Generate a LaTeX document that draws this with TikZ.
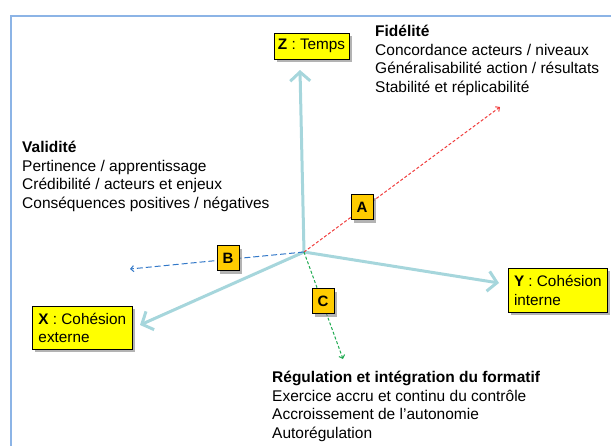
\documentclass[tikz,border=0pt]{standalone}
\usepackage{fontspec}
\setmainfont{Liberation Sans}
\usetikzlibrary{arrows.meta,shadows}
\definecolor{axiscol}{RGB}{166,214,220}
\definecolor{framecol}{RGB}{140,180,230}
\definecolor{boxyellow}{RGB}{255,255,0}
\definecolor{boxgold}{RGB}{255,204,0}
\definecolor{redline}{RGB}{240,60,60}
\definecolor{blueline}{RGB}{50,120,200}
\definecolor{greenline}{RGB}{30,170,80}
\tikzset{
  axisline/.style={axiscol, line width=3pt, -{Straight Barb[length=9pt,width=20pt]}},
  dashline/.style={line width=1pt, dash pattern=on 3pt off 2pt, -{Straight Barb[length=3pt,width=6pt]}},
  labelbox/.style={draw=black, line width=0.6pt, fill=boxyellow, align=left, inner sep=3pt,
    drop shadow={shadow xshift=3pt, shadow yshift=-3pt, fill=black!50, opacity=0.6},
    font=\fontsize{15.3}{18.6}\selectfont},
  letterbox/.style={draw=black, line width=0.6pt, fill=boxgold, minimum width=22pt, minimum height=25pt, inner sep=0pt,
    drop shadow={shadow xshift=3pt, shadow yshift=-3pt, fill=black!50, opacity=0.6},
    font=\fontsize{15}{18}\selectfont\bfseries},
  textblock/.style={align=left, inner sep=0pt, anchor=north west, font=\fontsize{15.5}{18.6}\selectfont}
}
\begin{document}
\begin{tikzpicture}[x=1pt,y=1pt]
\useasboundingbox (0,0) rectangle (611,-445);
\begin{scope}
\clip (0,0) rectangle (611,-445);
\draw[framecol, line width=1.2pt] (11,-16) rectangle (640,-480);
\end{scope}

\coordinate (O) at (304,-252);
\coordinate (Ztip) at (300,-70);
\coordinate (Ytip) at (499,-283);
\coordinate (Xtip) at (140,-325);
\coordinate (Aend) at (500,-107);
\coordinate (Bend) at (130,-269);
\coordinate (Cend) at (343,-359);

\draw[axisline] (O) -- (Ztip);
\draw[axisline] (O) -- (Ytip);
\draw[axisline] (O) -- (Xtip);

\draw[dashline, redline] (O) -- (Aend);
\draw[dashline, blueline, dash pattern=on 6pt off 3pt] (O) -- (Bend);
\draw[dashline, greenline] (O) -- (Cend);

\node[letterbox] (A) at (362,-207) {A};
\node[letterbox] (B) at (228,-258) {B};
\node[letterbox] (C) at (323,-301) {C};

\node[labelbox, minimum width=75pt, minimum height=26pt, align=center] (Z) at (311.5,-46) {\textbf{Z} : Temps};
\node[labelbox, anchor=north west, minimum width=99pt, minimum height=44pt] (Y) at (508,-268) {\textbf{Y} : Cohésion\\interne};
\node[labelbox, anchor=north west, minimum width=100pt, minimum height=43pt] (X) at (32,-306) {\textbf{X} : Cohésion\\externe};

\node[textblock] (fid) at (375,-25) {\textbf{Fidélité}\\Concordance acteurs / niveaux\\Généralisabilité action / résultats\\Stabilité et réplicabilité};
\node[textblock] (val) at (22,-141) {\textbf{Validité}\\Pertinence / apprentissage\\Crédibilité / acteurs et enjeux\\Conséquences positives / négatives};
\node[textblock] (reg) at (272,-371) {\textbf{Régulation et intégration du formatif}\\Exercice accru et continu du contrôle\\Accroissement de l’autonomie\\Autorégulation};
\end{tikzpicture}
\end{document}
